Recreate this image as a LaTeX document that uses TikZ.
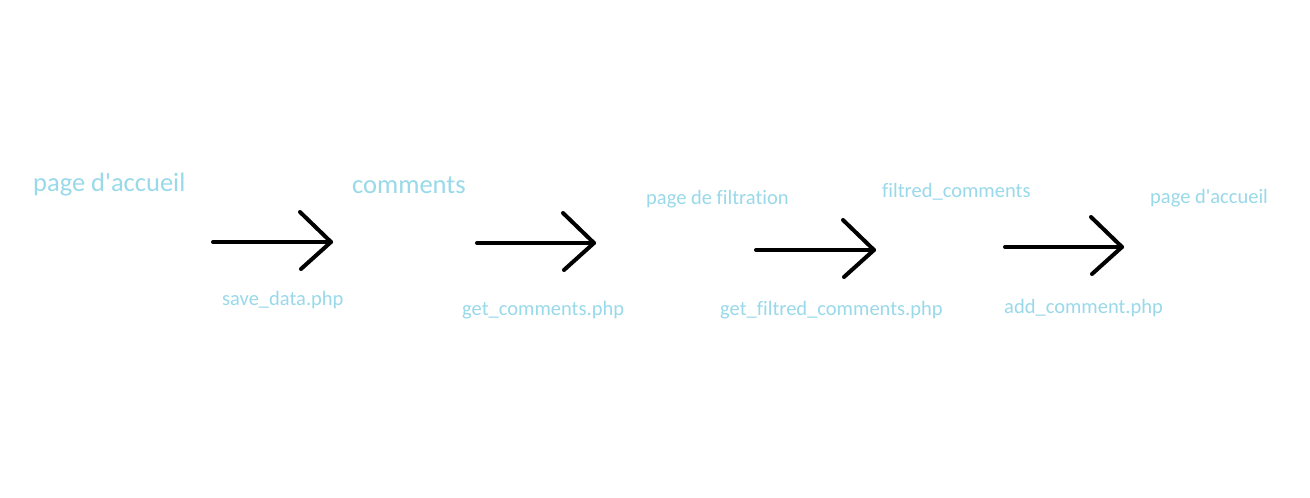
\documentclass[tikz,border=0pt]{standalone}
\usepackage{fontspec}
\setmainfont{Carlito}[Ligatures={NoCommon}]
\definecolor{lblue}{HTML}{99D9EA}
\begin{document}
\begin{tikzpicture}[x=1pt,y=-1pt,
  big/.style={anchor=base west,inner sep=0pt,text=lblue,font=\fontsize{26.5}{30}\selectfont},
  small/.style={anchor=base west,inner sep=0pt,text=lblue,font=\fontsize{20.5}{24}\selectfont},
  arrowline/.style={draw=black,line width=4pt,line cap=round,line join=round}]
\useasboundingbox[fill=white] (0,0) rectangle (1310,498);
% labels
\node[big] (home1) at (33,191) {page d\textquotesingle accueil};
\node[big] (comm) at (352,193) {comments};
\node[small] (filt) at (646,204) {page de filtration};
\node[small] (fcomm) at (882,197) {filtred\_comments};
\node[small] (home2) at (1150,203) {page d\textquotesingle accueil};
\node[small] (l1) at (222,305) {save\_data.php};
\node[small] (l2) at (462,315) {get\_comments.php};
\node[small] (l3) at (720,315) {get\_filtred\_comments.php};
\node[small] (l4) at (1004,313) {add\_comment.php};
% arrows
\coordinate (a1s) at (213,242); \coordinate (a1e) at (331,242);
\coordinate (a2s) at (477,243); \coordinate (a2e) at (594,243);
\coordinate (a3s) at (756,250); \coordinate (a3e) at (874,250);
\coordinate (a4s) at (1005,247); \coordinate (a4e) at (1122,247);
\foreach \i in {1,2,3,4}{
  \draw[arrowline] (a\i s) -- (a\i e);
  \draw[arrowline] ([shift={(-31,-30)}]a\i e) -- (a\i e) -- ([shift={(-30,27)}]a\i e);
}
\end{tikzpicture}
\end{document}
